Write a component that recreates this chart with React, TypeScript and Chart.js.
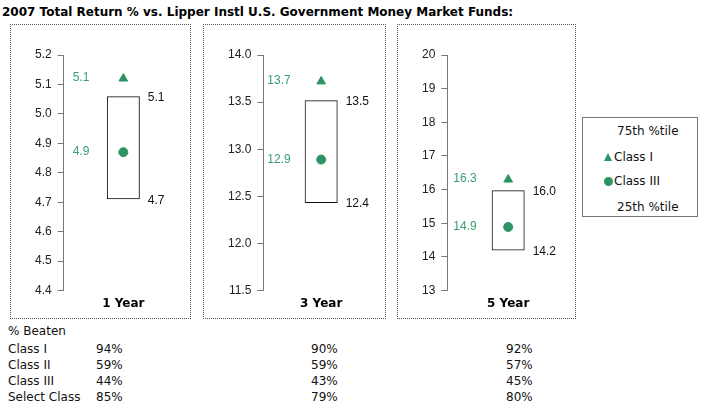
import React, { useEffect, useRef } from "react";
import { Chart, registerables } from "chart.js";
Chart.register(...registerables);

// ---- data ----
const titleText = "2007 Total Return % vs. Lipper Instl U.S. Government Money Market Funds:";
const periods = ["1 Year", "3 Year", "5 Year"];
const pct75 = [5.06, 13.52, 15.98];
const pct25 = [4.71, 12.43, 14.19];
const classI = [5.12, 13.72, 16.3];
const classIII = [4.87, 12.89, 14.89];
const axisMin = [4.4, 11.5, 13];
const axisMax = [5.2, 14.0, 20];
const axisStep = [0.1, 0.5, 1];
const axisDecimals = [1, 1, 0];

const legendItems = ["75th %tile", "Class I", "Class III", "25th %tile"];
const beatenTitle = "% Beaten";
const beatenRows = ["Class I", "Class II", "Class III", "Select Class"];
const beaten1Year = [94, 59, 44, 85];
const beaten3Year = [90, 59, 43, 79];
const beaten5Year = [92, 57, 45, 80];

// ---- layout / style ----
const GREEN = "#2e9363";
const GREEN_TEXT = "#3a9e70";
const panelLeft = [10, 203, 397];
const panelRight = [190, 385, 575];
const panelTop = 24;
const panelBottom = 318;
const rightPad = [7, 6, 3];
const greenOffset = [9, 4, 6];
const ARIAL = '"Liberation Sans", Arial, sans-serif';
const VERDANA = '"DejaVu Sans", Verdana, sans-serif';

function Panel({ i }: { i: number }) {
  const ref = useRef<HTMLCanvasElement>(null);
  const w = panelRight[i] - panelLeft[i] + 1;
  const h = panelBottom - panelTop + 1;
  useEffect(() => {
    const labelPlugin = {
      id: "valueLabels",
      afterDatasetsDraw(chart: any) {
        const ctx = chart.ctx;
        const ys = chart.scales.y;
        const bar = chart.getDatasetMeta(0).data[0];
        const bx = bar.x + bar.width / 2 + 8;
        ctx.save();
        ctx.font = "12px " + ARIAL;
        ctx.textBaseline = "middle";
        ctx.textAlign = "left";
        ctx.fillStyle = "#111";
        ctx.fillText(pct75[i].toFixed(1), bx, ys.getPixelForValue(pct75[i]) + 1);
        ctx.fillText(pct25[i].toFixed(1), bx, ys.getPixelForValue(pct25[i]) + 1);
        ctx.fillStyle = GREEN_TEXT;
        const gx = chart.chartArea.left + greenOffset[i];
        ctx.fillText(classI[i].toFixed(1), gx, ys.getPixelForValue(classI[i]) - 1);
        ctx.fillText(classIII[i].toFixed(1), gx, ys.getPixelForValue(classIII[i]));
        ctx.restore();
      },
    };
    const chart = new Chart(ref.current!, {
      type: "bar",
      data: {
        labels: [periods[i]],
        datasets: [
          {
            type: "bar",
            data: [[pct25[i], pct75[i]]] as any,
            backgroundColor: "rgba(0,0,0,0)",
            borderColor: "#111",
            borderWidth: 1,
            borderSkipped: false,
            inflateAmount: 0,
            barThickness: 33,
          } as any,
          {
            type: "line",
            data: [classI[i]],
            showLine: false,
            pointStyle: "triangle",
            pointRadius: 5,
            pointBackgroundColor: GREEN,
            pointBorderColor: GREEN,
            pointBorderWidth: 1,
          } as any,
          {
            type: "line",
            data: [classIII[i]],
            showLine: false,
            pointStyle: "circle",
            pointRadius: 4.5,
            pointBackgroundColor: GREEN,
            pointBorderColor: GREEN,
            pointBorderWidth: 1,
          } as any,
        ],
      },
      options: {
        responsive: false,
        animation: false,
        events: [],
        layout: { padding: { top: 30, bottom: 0, left: 18, right: rightPad[i] } },
        plugins: { legend: { display: false }, tooltip: { enabled: false } },
        scales: {
          x: {
            type: "category",
            offset: true,
            grid: { display: false, drawTicks: false, tickLength: 0 },
            border: { display: false },
            ticks: { padding: 6.5, color: "#000", font: { family: VERDANA, size: 12, weight: "bold" } },
          },
          y: {
            min: axisMin[i],
            max: axisMax[i],
            grid: { drawOnChartArea: false, drawTicks: true, tickLength: 6, color: "#777", lineWidth: 1 },
            border: { display: true, color: "#777", width: 1 },
            ticks: {
              stepSize: axisStep[i],
              padding: 6,
              color: "#222",
              font: { family: ARIAL, size: 12 },
              callback: (v: any) => Number(v).toFixed(axisDecimals[i]),
            },
          },
        },
      } as any,
      plugins: [labelPlugin],
    });
    return () => chart.destroy();
  }, [i]);
  return (
    <div
      style={{
        position: "absolute",
        left: panelLeft[i],
        top: panelTop,
        width: w,
        height: h,
        boxSizing: "border-box",
        border: "1px dotted #555",
      }}
    >
      <canvas
        ref={ref}
        width={w - 2}
        height={h - 2}
        style={{ position: "absolute", left: 0, top: 0, width: w - 2, height: h - 2 }}
      />
    </div>
  );
}

export default function App() {
  const textStyle: React.CSSProperties = {
    position: "absolute",
    fontFamily: VERDANA,
    fontSize: 12,
    lineHeight: "16px",
    color: "#111",
    whiteSpace: "nowrap",
  };
  const rowCenter = [349, 365, 381, 397];
  return (
    <div
      style={{
        position: "fixed",
        left: 0,
        top: 0,
        width: 703,
        height: 404,
        background: "#fff",
        overflow: "hidden",
      }}
    >
      <div
        style={{
          ...textStyle,
          left: 2,
          top: 4,
          fontWeight: "bold",
          color: "#000",
        }}
      >
        {titleText}
      </div>
      {periods.map((_, i) => (
        <Panel key={i} i={i} />
      ))}
      {/* legend */}
      <div
        style={{
          position: "absolute",
          left: 582,
          top: 117,
          width: 116,
          height: 100,
          boxSizing: "border-box",
          border: "1px solid #777",
        }}
      >
        <div style={{ ...textStyle, left: 34, top: 5 }}>{legendItems[0]}</div>
        <div
          style={{
            position: "absolute",
            left: 21,
            top: 35,
            width: 0,
            height: 0,
            borderLeft: "4.5px solid transparent",
            borderRight: "4.5px solid transparent",
            borderBottom: "8px solid " + GREEN,
          }}
        />
        <div style={{ ...textStyle, left: 31, top: 31 }}>{legendItems[1]}</div>
        <div
          style={{
            position: "absolute",
            left: 21,
            top: 59,
            width: 9,
            height: 9,
            borderRadius: "50%",
            background: GREEN,
          }}
        />
        <div style={{ ...textStyle, left: 31, top: 55 }}>{legendItems[2]}</div>
        <div style={{ ...textStyle, left: 34, top: 81 }}>{legendItems[3]}</div>
      </div>
      {/* % beaten table */}
      <div style={{ ...textStyle, left: 8, top: 331 - 8 }}>{beatenTitle}</div>
      {beatenRows.map((r, k) => (
        <React.Fragment key={r}>
          <div style={{ ...textStyle, left: 8, top: rowCenter[k] - 8 }}>{r}</div>
          <div style={{ ...textStyle, left: 96, top: rowCenter[k] - 8 }}>{beaten1Year[k] + "%"}</div>
          <div style={{ ...textStyle, left: 311, top: rowCenter[k] - 8 }}>{beaten3Year[k] + "%"}</div>
          <div style={{ ...textStyle, left: 506, top: rowCenter[k] - 8 }}>{beaten5Year[k] + "%"}</div>
        </React.Fragment>
      ))}
    </div>
  );
}
